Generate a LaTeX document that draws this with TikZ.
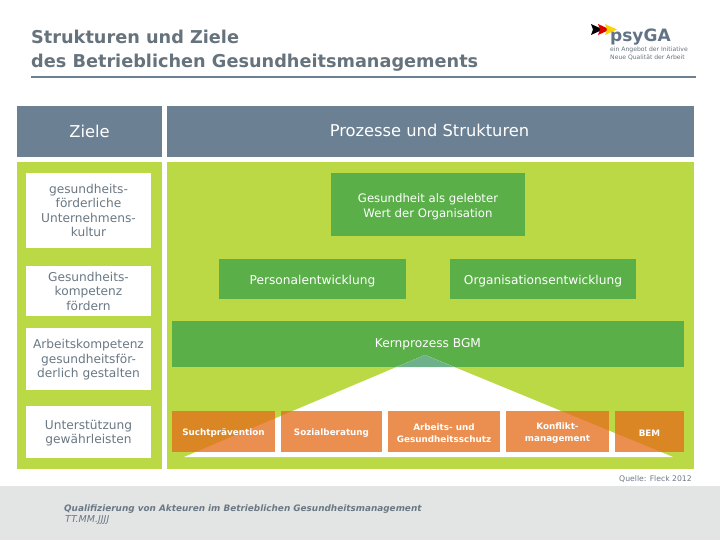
\documentclass[tikz,border=0pt]{standalone}
\usepackage{fontspec}
\setmainfont{DejaVu Sans}
\definecolor{slate}{HTML}{6C8093}
\definecolor{textgrey}{HTML}{6A7884}
\definecolor{titlegrey}{HTML}{66737C}
\definecolor{lime}{HTML}{BBD845}
\definecolor{leaf}{HTML}{5AAF48}
\definecolor{apexteal}{HTML}{70B18B}
\definecolor{orangebox}{HTML}{E56E1C}
\definecolor{footgrey}{HTML}{E3E5E5}
\def\pad#1{\rule{0pt}{#1pt}}
\tikzset{
	head/.style={fill=slate,text=white,minimum width=#1,minimum height=51pt,inner sep=0pt,font=\fontsize{16.3}{18}\selectfont},
	zielbox/.style={fill=white,text=textgrey,minimum width=125pt,inner sep=0pt,align=center,font=\fontsize{12.2}{14.5}\selectfont},
	procbox/.style={fill=leaf,text=white,inner sep=0pt,align=center,font=\fontsize{12.2}{15}\selectfont},
	orangeitem/.style={fill=orangebox,fill opacity=.77,text opacity=1,text=white,minimum height=41pt,inner sep=0pt,align=center,font=\fontsize{8.8}{12.5}\bfseries\selectfont},
	titleline/.style={anchor=base west,inner sep=0pt,text=titlegrey,font=\fontsize{17.7}{24}\bfseries\selectfont},
	logoline/.style={anchor=base west,inner sep=0pt,text=titlegrey,font=\fontsize{6.1}{8}\selectfont},
}
\begin{document}
\begin{tikzpicture}[x=1pt,y=-1pt]
		\useasboundingbox (0,0) rectangle (720,540);
		% title
			\node [titleline] (titleone) at (31,44) {Strukturen und Ziele};
			\node [titleline] (titletwo) at (31,68) {des Betrieblichen Gesundheitsmanagements};
			\fill [color=slate] (31,76) rectangle (696,78.5);
		% logo
			\fill [color=black] (591,24) -- (603,29.5) -- (591,35) -- (593,29.5) -- cycle;
			\fill [color=red!85!black] (598,24) -- (610,29.5) -- (598,35) -- (600,29.5) -- cycle;
			\fill [color=yellow!70!orange] (605,24) -- (617,29.5) -- (605,35) -- (607,29.5) -- cycle;
			\node [anchor=base west,inner sep=0pt,text=slate!90!black,font=\fontsize{17}{20}\bfseries\selectfont] (logoname) at (610,41.5) {psyGA};
			\node [logoline] (logoone) at (610,52) {ein Angebot der Initiative};
			\node [logoline] (logotwo) at (610,60) {Neue Qualität der Arbeit};
		% headers
			\node [head=145pt] (ziele) at (89.5,131.5) {\raisebox{-1pt}{Ziele}};
			\node [head=527pt] (prozesse) at (430.5,131.5) {\hspace*{-2pt}\raisebox{1.5pt}{Prozesse und Strukturen}};
		% panels
			\fill [color=lime] (17,162) rectangle (162,469);
			\fill [color=lime] (167,162) rectangle (694,469);
		% left column
			\node [zielbox,minimum height=75pt] (kultur) at (88.5,210.5) {gesundheits-\\förderliche\\Unternehmens-\\kultur};
			\node [zielbox,minimum height=50pt] (kompetenz) at (88.5,291) {Gesundheits-\\kompetenz\\fördern};
			\node [zielbox,minimum height=62pt] (arbeit) at (88.5,359) {\pad{11}Arbeitskompetenz\\gesundheitsför-\\derlich gestalten};
			\node [zielbox,minimum height=52pt] (unterstuetzung) at (88.5,432) {\pad{12}Unterstützung\\gewährleisten};
		% right column
			\node [procbox,minimum width=194pt,minimum height=63pt,font=\fontsize{11.7}{15}\selectfont] (wert) at (428,204.5) {\pad{13}Gesundheit als gelebter\\Wert der Organisation};
			\node [procbox,minimum width=187pt,minimum height=40pt] (personal) at (312.5,279) {\pad{13}Personalentwicklung};
			\node [procbox,minimum width=186pt,minimum height=40pt] (organisation) at (543,279) {\pad{13}Organisationsentwicklung};
			\node [procbox,minimum width=512pt,minimum height=46pt] (kern) at (428,344) {Kernprozess BGM};
		% triangle
			\coordinate (apex) at (425,355);
			\coordinate (baseleft) at (184,457);
			\coordinate (baseright) at (673,457);
			\fill [color=white] (apex) -- (baseright) -- (baseleft) -- cycle;
			\fill [color=apexteal] (apex) -- (454,367) -- (396.6,367) -- cycle;
		% measures
			\node [orangeitem,minimum width=103pt] (sucht) at (223.5,431.5) {\pad{10}Suchtprävention};
			\node [orangeitem,minimum width=101pt] (sozial) at (331.5,431.5) {\pad{10}Sozialberatung};
			\node [orangeitem,minimum width=112pt] (schutz) at (444,431.5) {\pad{10}Arbeits- und\\Gesundheitsschutz};
			\node [orangeitem,minimum width=103pt] (konflikt) at (557.5,431.5) {\pad{10}Konflikt-\\management};
			\node [orangeitem,minimum width=69pt] (bem) at (649.5,431.5) {\pad{10}BEM};
		% footer
			\node [anchor=base east,inner sep=0pt,text=textgrey,font=\fontsize{7.7}{9}\selectfont] (quelle) at (692,481) {Quelle: Fleck 2012};
			\fill [color=footgrey] (0,486) rectangle (720,540);
			\node [anchor=base west,inner sep=0pt,text=textgrey,font=\fontsize{8.87}{10}\bfseries\itshape\selectfont] (seminar) at (64,511) {Qualifizierung von Akteuren im Betrieblichen Gesundheitsmanagement};
			\node [anchor=base west,inner sep=0pt,text=textgrey,font=\fontsize{9.5}{10}\itshape\selectfont] (datum) at (65,522.5) {TT.MM.JJJJ};
	\end{tikzpicture}
\end{document}
